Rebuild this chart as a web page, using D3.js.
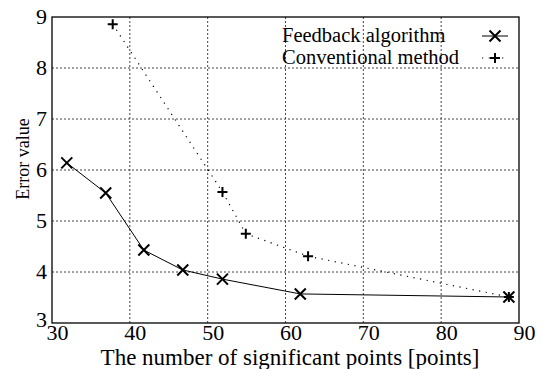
<!DOCTYPE html>
<html>
<head>
<meta charset="utf-8">
<script src="https://cdn.jsdelivr.net/npm/d3@7"></script>
<style>
  body { margin: 0; background: #fff; }
  svg text { font-family: "Liberation Serif", "Times New Roman", Times, "DejaVu Serif", serif; fill: #000; }
</style>
</head>
<body>
<div id="place"></div>
<script>
// values
const feedbackX = [31.9, 36.9, 41.8, 46.8, 51.9, 61.9, 88.7];
const feedbackY = [6.14, 5.55, 4.43, 4.04, 3.86, 3.57, 3.51];
const conventionalX = [37.8, 51.9, 54.9, 62.9, 88.7];
const conventionalY = [8.86, 5.57, 4.75, 4.31, 3.51];
const xTicks = [30, 40, 50, 60, 70, 80, 90];
const yTicks = [3, 4, 5, 6, 7, 8, 9];
const seriesNames = ["Feedback algorithm", "Conventional method"];

const serif = '"Liberation Serif", "Times New Roman", Times, serif';
const W = 543, H = 369;
const margin = { top: 17, right: 24, bottom: 46, left: 52 };
const width = W - margin.left - margin.right,
      height = H - margin.top - margin.bottom;

const svg = d3.select("#place").append("svg")
    .attr("width", W).attr("height", H)
    .attr("font-family", serif);
const g = svg.append("g")
    .attr("transform", "translate(" + margin.left + "," + margin.top + ")");

const x = d3.scaleLinear().domain([30, 90]).range([0, width]);
const y = d3.scaleLinear().domain([3, 9]).range([height, 0]);

// grid
g.append("g").selectAll("line").data(xTicks.slice(1, -1)).enter().append("line")
    .attr("x1", d => x(d)).attr("x2", d => x(d))
    .attr("y1", 0).attr("y2", height)
    .attr("stroke", "#444").attr("stroke-width", 1).attr("stroke-dasharray", "2,2");
g.append("g").selectAll("line").data(yTicks.slice(1, -1)).enter().append("line")
    .attr("x1", 0).attr("x2", width)
    .attr("y1", d => y(d)).attr("y2", d => y(d))
    .attr("stroke", "#444").attr("stroke-width", 1).attr("stroke-dasharray", "2,2");

// axes (labels only, frame drawn separately)
const xAxis = g.append("g").attr("transform", "translate(0," + height + ")")
    .call(d3.axisBottom(x).tickValues(xTicks).tickFormat(d3.format("d")).tickSize(0).tickPadding(4));
const yAxis = g.append("g")
    .call(d3.axisLeft(y).tickValues(yTicks).tickFormat(d3.format("d")).tickSize(0).tickPadding(5));
[xAxis, yAxis].forEach(a => {
    a.attr("font-family", serif).attr("font-size", 22);
    a.select(".domain").remove();
    a.selectAll("text").attr("fill", "#000");
});
xAxis.selectAll("text").attr("dy", "0.6em").attr("x", 5);
yAxis.selectAll("text").attr("dy", "0.3em");
yAxis.selectAll("text").filter(d => d === 3).attr("dy", "0.15em");

g.append("rect").attr("width", width).attr("height", height)
    .attr("fill", "none").attr("stroke", "#000").attr("stroke-width", 1.3);

// lines
const fb = feedbackX.map((d, i) => [d, feedbackY[i]]);
const cv = conventionalX.map((d, i) => [d, conventionalY[i]]);
const line = d3.line().x(d => x(d[0])).y(d => y(d[1]));

g.append("path").datum(cv).attr("d", line)
    .attr("fill", "none").attr("stroke", "#000").attr("stroke-width", 1.2)
    .attr("stroke-dasharray", "1.2,5.5");
g.append("path").datum(fb).attr("d", line)
    .attr("fill", "none").attr("stroke", "#000").attr("stroke-width", 1);

function drawX(sel, cx, cy) {
    const s = 5.5;
    sel.append("path")
        .attr("d", "M" + (cx - s) + "," + (cy - s) + "L" + (cx + s) + "," + (cy + s) +
                   "M" + (cx - s) + "," + (cy + s) + "L" + (cx + s) + "," + (cy - s))
        .attr("stroke", "#000").attr("stroke-width", 2);
}
function drawPlus(sel, cx, cy) {
    const s = 5;
    sel.append("path")
        .attr("d", "M" + (cx - s) + "," + cy + "L" + (cx + s) + "," + cy +
                   "M" + cx + "," + (cy - s) + "L" + cx + "," + (cy + s))
        .attr("stroke", "#000").attr("stroke-width", 2);
}
fb.forEach(d => drawX(g, x(d[0]), y(d[1])));
cv.forEach(d => drawPlus(g, x(d[0]), y(d[1])));

// legend
const legY = [19, 41];
seriesNames.forEach((name, i) => {
    g.append("text").attr("x", 230).attr("y", legY[i]).attr("dy", "0.27em")
        .attr("font-size", 20.5).text(name);
});
g.append("line").attr("x1", 430).attr("x2", 456).attr("y1", legY[0]).attr("y2", legY[0])
    .attr("stroke", "#000").attr("stroke-width", 1);
drawX(g, 443, legY[0]);
g.append("line").attr("x1", 430).attr("x2", 456).attr("y1", legY[1]).attr("y2", legY[1])
    .attr("stroke", "#000").attr("stroke-width", 1.2).attr("stroke-dasharray", "1.2,5.5");
drawPlus(g, 443, legY[1]);

// axis titles
svg.append("text").attr("x", 290).attr("y", 365)
    .attr("text-anchor", "middle").attr("font-size", 23)
    .text("The number of significant points [points]");
svg.append("text").attr("transform", "translate(29,159) rotate(-90)")
    .attr("text-anchor", "middle").attr("font-size", 18)
    .text("Error value");
</script>
</body>
</html>
